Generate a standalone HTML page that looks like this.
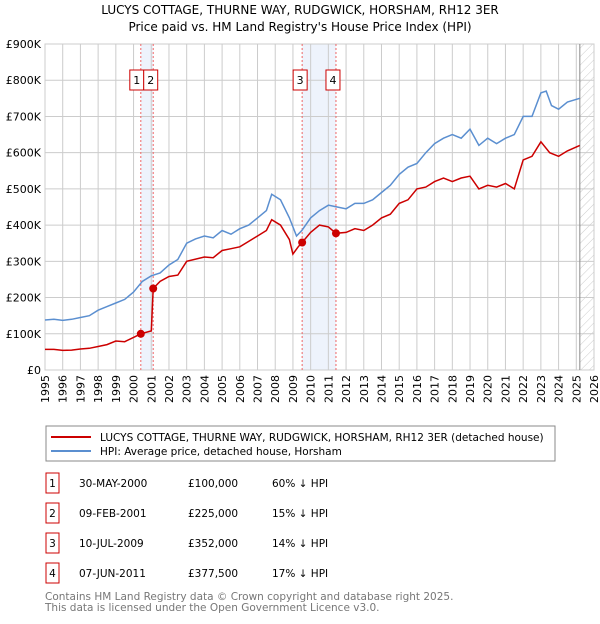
<!DOCTYPE html>
<html><head><meta charset="utf-8"><style>
body{margin:0;background:#fff;font-family:"DejaVu Sans","Liberation Sans",sans-serif;}
svg text{font-family:"DejaVu Sans","Liberation Sans",sans-serif;}
</style></head><body>
<svg id="c" width="600" height="620" xmlns="http://www.w3.org/2000/svg">
<defs><pattern id="hatch" width="6" height="6" patternUnits="userSpaceOnUse" patternTransform="rotate(45)"><line x1="0" y1="0" x2="0" y2="6" stroke="#ccc" stroke-width="1"/></pattern></defs>
<text x="300" y="14" text-anchor="middle" font-size="12">LUCYS COTTAGE, THURNE WAY, RUDGWICK, HORSHAM, RH12 3ER</text>
<text x="300" y="31" text-anchor="middle" font-size="12">Price paid vs. HM Land Registry's House Price Index (HPI)</text>
<g id="plot"></g>
<g>
<rect x="46" y="426" width="509" height="35" fill="#fff" stroke="#888"/>
<line x1="51" y1="437" x2="91" y2="437" stroke="#cc0000" stroke-width="2"/>
<text x="100" y="441" font-size="10.5">LUCYS COTTAGE, THURNE WAY, RUDGWICK, HORSHAM, RH12 3ER (detached house)</text>
<line x1="51" y1="451" x2="91" y2="451" stroke="#5b8fd0" stroke-width="2"/>
<text x="100" y="455" font-size="10.5">HPI: Average price, detached house, Horsham</text>
</g>
<g id="table" font-size="10.5"></g>
<text x="45" y="600" font-size="10.5" fill="#777">Contains HM Land Registry data © Crown copyright and database right 2025.</text>
<text x="45" y="611" font-size="10.5" fill="#777">This data is licensed under the Open Government Licence v3.0.</text>
</svg>
<script>
const hpiYears=[1995,1995.5,1996,1996.5,1997,1997.5,1998,1998.5,1999,1999.5,2000,2000.5,2001,2001.5,2002,2002.5,2003,2003.5,2004,2004.5,2005,2005.5,2006,2006.5,2007,2007.5,2007.8,2008.3,2008.8,2009.2,2009.5,2010,2010.5,2011,2011.5,2012,2012.5,2013,2013.5,2014,2014.5,2015,2015.5,2016,2016.5,2017,2017.5,2018,2018.5,2019,2019.5,2020,2020.5,2021,2021.5,2022,2022.5,2023,2023.3,2023.6,2024,2024.5,2025.2];
const hpiValues=[138,140,137,140,145,150,165,175,185,195,215,245,260,268,290,305,350,362,370,365,385,375,390,400,420,440,485,470,420,370,385,420,440,455,450,445,460,460,470,490,510,540,560,570,600,625,640,650,640,665,620,640,625,640,650,700,700,765,770,730,720,740,750];
const ppYears=[1995,1995.5,1996,1996.5,1997,1997.5,1998,1998.5,1999,1999.5,2000,2000.41,2001,2001.11,2001.5,2002,2002.5,2003,2004,2004.5,2005,2005.5,2006,2006.5,2007,2007.5,2007.8,2008.3,2008.8,2009,2009.3,2009.52,2010,2010.5,2011,2011.43,2012,2012.5,2013,2013.5,2014,2014.5,2015,2015.5,2016,2016.5,2017,2017.5,2018,2018.5,2019,2019.5,2020,2020.5,2021,2021.5,2022,2022.5,2023,2023.5,2024,2024.5,2025.2];
const ppValues=[57,57,54,55,58,60,65,70,80,78,90,100,108,225,245,258,262,300,312,310,330,335,340,355,370,385,415,400,360,320,340,352,380,400,395,377.5,380,390,385,400,420,430,460,470,500,505,520,530,520,530,535,500,510,505,515,500,580,590,630,600,590,605,620];
const saleYears=[2000.41,2001.11,2009.52,2011.43];
const saleValues=[100,225,352,377.5];
const saleLabels=["1","2","3","4"];
const saleDates=["30-MAY-2000","09-FEB-2001","10-JUL-2009","07-JUN-2011"];
const salePrices=["£100,000","£225,000","£352,000","£377,500"];
const saleDiffs=["60% ↓ HPI","15% ↓ HPI","14% ↓ HPI","17% ↓ HPI"];
const yTicks=[0,100,200,300,400,500,600,700,800,900];
const yTickLabels=["£0","£100K","£200K","£300K","£400K","£500K","£600K","£700K","£800K","£900K"];
const xTicks=[1995,1996,1997,1998,1999,2000,2001,2002,2003,2004,2005,2006,2007,2008,2009,2010,2011,2012,2013,2014,2015,2016,2017,2018,2019,2020,2021,2022,2023,2024,2025,2026];

const X0=45,X1=594,Y0=370,Y1=44;
const x=v=>X0+(v-1995)/(2026-1995)*(X1-X0);
const y=v=>Y0-v/900*(Y0-Y1);
const NS="http://www.w3.org/2000/svg";
const plot=document.getElementById('plot');
function mk(tag,attrs,parent){const e=document.createElementNS(NS,tag);for(const k in attrs)e.setAttribute(k,attrs[k]);(parent||plot).appendChild(e);return e;}

const b1=mk('rect',{x:x(saleYears[0]),y:Y1,width:x(saleYears[1])-x(saleYears[0]),height:Y0-Y1,fill:'#eef3fc'});


const b2=mk('rect',{x:x(saleYears[2]),y:Y1,width:x(saleYears[3])-x(saleYears[2]),height:Y0-Y1,fill:'#eef3fc'});


const h=mk('rect',{x:x(2025.2),y:Y1,width:X1-x(2025.2),height:Y0-Y1,fill:'url(#hatch)'});


yTicks.forEach((t,i)=>{
  const l=mk('line',{x1:X0,x2:X1,y1:y(t),y2:y(t),stroke:'#ccc','stroke-width':1});
  
  
  const tx=mk('text',{x:X0-4,y:y(t)+4,'text-anchor':'end','font-size':11});
  
  
  tx.textContent=yTickLabels[i];
});
xTicks.forEach(t=>{
  const l=mk('line',{x1:x(t),x2:x(t),y1:Y1,y2:Y0,stroke:'#ccc','stroke-width':1});
  
  
  const tx=mk('text',{x:0,y:0,'text-anchor':'end','font-size':11,transform:'translate('+(x(t)+4)+','+(Y0+5)+') rotate(-90)'});
  
  
  tx.textContent=t;
});
const fr=mk('rect',{x:X0,y:Y1,width:X1-X0,height:Y0-Y1,fill:'none',stroke:'#ccc'});


const el=mk('line',{x1:x(2025.2),x2:x(2025.2),y1:Y1,y2:Y0,stroke:'#888'});


saleYears.forEach((s,i)=>{
  const l=mk('line',{x1:x(s),x2:x(s),y1:Y1,y2:Y0,stroke:'#e66','stroke-width':1,'stroke-dasharray':'2,2'});
  
  
});
function path(xs,vs){return xs.map((a,i)=>(i?'L':'M')+x(a).toFixed(1)+','+y(vs[i]).toFixed(1)).join('');}
const hp=mk('path',{d:path(hpiYears,hpiValues),fill:'none',stroke:'#5b8fd0','stroke-width':1.5});


const pp=mk('path',{d:path(ppYears,ppValues),fill:'none',stroke:'#cc0000','stroke-width':1.5});


saleYears.forEach((s,i)=>{
  const c=mk('circle',{cx:x(s),cy:y(saleValues[i]),r:4,fill:'#cc0000'});
  
  
});
const boxX=[x(saleYears[0])-11,x(saleYears[1])-9.5,x(saleYears[2])-9,x(saleYears[3])-10];
saleLabels.forEach((lab,i)=>{
  const g=mk('g',{});
  
  
  mk('rect',{x:boxX[i],y:70,width:14,height:20,fill:'#fff',stroke:'#cc0000'},g);
  const t=mk('text',{x:boxX[i]+7,y:84,'text-anchor':'middle','font-size':11},g);
  t.textContent=lab;
});
const tb=document.getElementById('table');
saleLabels.forEach((lab,i)=>{
  const cy=483+30*i;
  const g=mk('g',{},tb);
  
  
  mk('rect',{x:46,y:cy-10,width:13,height:20,fill:'#fff',stroke:'#cc0000'},g);
  const cols=[[52.5,lab,'middle'],[79,saleDates[i],'start'],[188,salePrices[i],'start'],[272,saleDiffs[i],'start']];
  cols.forEach(c=>{const t=mk('text',{x:c[0],y:cy+4,'text-anchor':c[2]},g);t.textContent=c[1];});
});
</script>
</body></html>
